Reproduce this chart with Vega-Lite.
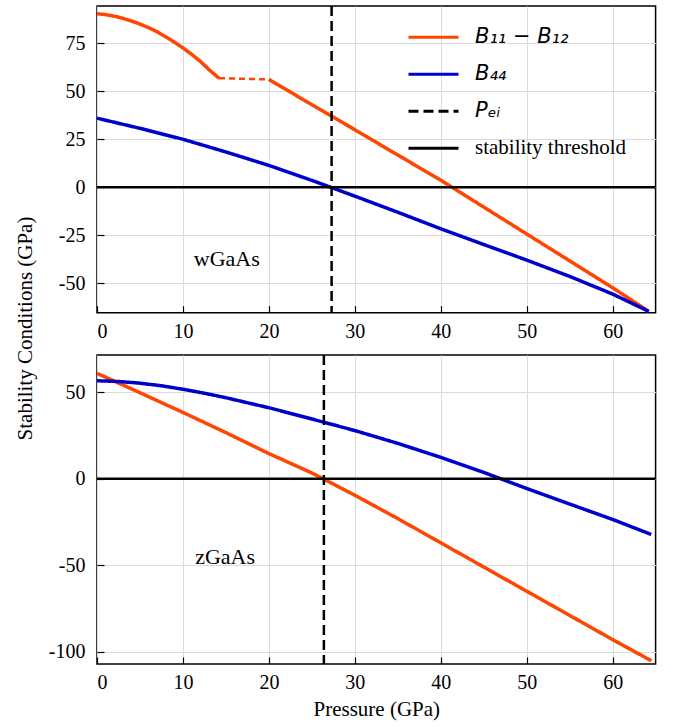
{
  "$schema": "https://vega.github.io/schema/vega-lite/v6.json",
  "padding": {"left": 14, "top": 4, "right": 5, "bottom": 5},
  "bounds": "flush",
  "spacing": 42,
  "config": {
    "font": "Liberation Serif",
    "view": {"stroke": "black", "strokeWidth": 1.5},
    "axis": {
      "grid": true, "gridColor": "#dcdcdc", "gridWidth": 1, "domain": false,
      "tickColor": "black", "tickSize": -7, "tickWidth": 1.2,
      "labelFont": "Liberation Serif", "labelFontSize": 20, "labelColor": "black",
      "labelExpr": "replace(datum.label, '−', '-')",
      "titleFont": "Liberation Serif", "titleFontSize": 21, "titleFontWeight": "normal", "titleColor": "black"
    },
    "axisX": {"labelPadding": 16, "titlePadding": 6},
    "axisY": {"labelPadding": 19}
  },
  "datasets": {
    "curves": [
      {"panel": "w", "series": "B11-B12", "seg": "a", "P": 0, "value": 90.4},
      {"panel": "w", "series": "B11-B12", "seg": "a", "P": 1, "value": 89.9},
      {"panel": "w", "series": "B11-B12", "seg": "a", "P": 2, "value": 89.1},
      {"panel": "w", "series": "B11-B12", "seg": "a", "P": 3, "value": 88.0},
      {"panel": "w", "series": "B11-B12", "seg": "a", "P": 4, "value": 86.6},
      {"panel": "w", "series": "B11-B12", "seg": "a", "P": 5, "value": 85.0},
      {"panel": "w", "series": "B11-B12", "seg": "a", "P": 6, "value": 83.1},
      {"panel": "w", "series": "B11-B12", "seg": "a", "P": 7, "value": 81.0},
      {"panel": "w", "series": "B11-B12", "seg": "a", "P": 8, "value": 78.4},
      {"panel": "w", "series": "B11-B12", "seg": "a", "P": 9, "value": 75.6},
      {"panel": "w", "series": "B11-B12", "seg": "a", "P": 10, "value": 72.6},
      {"panel": "w", "series": "B11-B12", "seg": "a", "P": 11, "value": 69.3},
      {"panel": "w", "series": "B11-B12", "seg": "a", "P": 12, "value": 65.7},
      {"panel": "w", "series": "B11-B12", "seg": "a", "P": 13, "value": 61.4},
      {"panel": "w", "series": "B11-B12", "seg": "a", "P": 14.2, "value": 56.8},
      {"panel": "w", "series": "B11-B12", "seg": "b", "P": 20, "value": 56.2},
      {"panel": "w", "series": "B11-B12", "seg": "b", "P": 25, "value": 43},
      {"panel": "w", "series": "B11-B12", "seg": "b", "P": 30, "value": 30},
      {"panel": "w", "series": "B11-B12", "seg": "b", "P": 35, "value": 16.8},
      {"panel": "w", "series": "B11-B12", "seg": "b", "P": 40, "value": 3.7},
      {"panel": "w", "series": "B11-B12", "seg": "b", "P": 45, "value": -10.3},
      {"panel": "w", "series": "B11-B12", "seg": "b", "P": 50, "value": -24.3},
      {"panel": "w", "series": "B11-B12", "seg": "b", "P": 55, "value": -38.3},
      {"panel": "w", "series": "B11-B12", "seg": "b", "P": 60, "value": -52.3},
      {"panel": "w", "series": "B11-B12", "seg": "b", "P": 64.2, "value": -64.6},
      {"panel": "w", "series": "gap", "seg": "g", "P": 14.2, "value": 56.8},
      {"panel": "w", "series": "gap", "seg": "g", "P": 20, "value": 56.2},
      {"panel": "w", "series": "B44", "seg": "c", "P": 0, "value": 36.0},
      {"panel": "w", "series": "B44", "seg": "c", "P": 5, "value": 30.7},
      {"panel": "w", "series": "B44", "seg": "c", "P": 10, "value": 25.0},
      {"panel": "w", "series": "B44", "seg": "c", "P": 15, "value": 18.4},
      {"panel": "w", "series": "B44", "seg": "c", "P": 20, "value": 11.4},
      {"panel": "w", "series": "B44", "seg": "c", "P": 25, "value": 3.6},
      {"panel": "w", "series": "B44", "seg": "c", "P": 30, "value": -4.6},
      {"panel": "w", "series": "B44", "seg": "c", "P": 35, "value": -13.0},
      {"panel": "w", "series": "B44", "seg": "c", "P": 40, "value": -21.6},
      {"panel": "w", "series": "B44", "seg": "c", "P": 45, "value": -29.8},
      {"panel": "w", "series": "B44", "seg": "c", "P": 50, "value": -37.9},
      {"panel": "w", "series": "B44", "seg": "c", "P": 55, "value": -46.4},
      {"panel": "w", "series": "B44", "seg": "c", "P": 60, "value": -55.6},
      {"panel": "w", "series": "B44", "seg": "c", "P": 64.2, "value": -64.6},
      {"panel": "z", "series": "B11-B12", "seg": "a", "P": 0, "value": 61},
      {"panel": "z", "series": "B11-B12", "seg": "a", "P": 5, "value": 49.8},
      {"panel": "z", "series": "B11-B12", "seg": "a", "P": 10, "value": 38.4},
      {"panel": "z", "series": "B11-B12", "seg": "a", "P": 15, "value": 26.7},
      {"panel": "z", "series": "B11-B12", "seg": "a", "P": 20, "value": 14.6},
      {"panel": "z", "series": "B11-B12", "seg": "a", "P": 25, "value": 3.4},
      {"panel": "z", "series": "B11-B12", "seg": "a", "P": 30, "value": -9.5},
      {"panel": "z", "series": "B11-B12", "seg": "a", "P": 35, "value": -23},
      {"panel": "z", "series": "B11-B12", "seg": "a", "P": 40, "value": -37},
      {"panel": "z", "series": "B11-B12", "seg": "a", "P": 45, "value": -51},
      {"panel": "z", "series": "B11-B12", "seg": "a", "P": 50, "value": -65},
      {"panel": "z", "series": "B11-B12", "seg": "a", "P": 55, "value": -79},
      {"panel": "z", "series": "B11-B12", "seg": "a", "P": 60, "value": -93},
      {"panel": "z", "series": "B11-B12", "seg": "a", "P": 64.5, "value": -105.2},
      {"panel": "z", "series": "B44", "seg": "c", "P": 0, "value": 56.7},
      {"panel": "z", "series": "B44", "seg": "c", "P": 2.5, "value": 56.3},
      {"panel": "z", "series": "B44", "seg": "c", "P": 5, "value": 55.3},
      {"panel": "z", "series": "B44", "seg": "c", "P": 7.5, "value": 53.8},
      {"panel": "z", "series": "B44", "seg": "c", "P": 10, "value": 51.8},
      {"panel": "z", "series": "B44", "seg": "c", "P": 12.5, "value": 49.5},
      {"panel": "z", "series": "B44", "seg": "c", "P": 15, "value": 46.9},
      {"panel": "z", "series": "B44", "seg": "c", "P": 20, "value": 41.1},
      {"panel": "z", "series": "B44", "seg": "c", "P": 25, "value": 34.6},
      {"panel": "z", "series": "B44", "seg": "c", "P": 30, "value": 27.9},
      {"panel": "z", "series": "B44", "seg": "c", "P": 35, "value": 20.5},
      {"panel": "z", "series": "B44", "seg": "c", "P": 40, "value": 12.4},
      {"panel": "z", "series": "B44", "seg": "c", "P": 45, "value": 3.7},
      {"panel": "z", "series": "B44", "seg": "c", "P": 50, "value": -5.6},
      {"panel": "z", "series": "B44", "seg": "c", "P": 55, "value": -14.6},
      {"panel": "z", "series": "B44", "seg": "c", "P": 60, "value": -23.5},
      {"panel": "z", "series": "B44", "seg": "c", "P": 64.5, "value": -32.2}
    ],
    "refs": [
      {"panel": "w", "series": "PEI", "P": 27.3},
      {"panel": "z", "series": "PEI", "P": 26.4}
    ],
    "thresholds": [
      {"panel": "w", "series": "thr", "value": 0},
      {"panel": "z", "series": "thr", "value": 0}
    ],
    "labels": [
      {"panel": "w", "P": 15.1, "value": -37.2, "text": "wGaAs"},
      {"panel": "z", "P": 14.9, "value": -45.3, "text": "zGaAs"}
    ]
  },
  "resolve": {
    "scale": {"color": "independent", "strokeDash": "independent"},
    "legend": {"color": "independent", "strokeDash": "independent"}
  },
  "vconcat": [
    {
      "width": 558.6,
      "height": 306.7,
      "encoding": {
        "x": {"field": "P", "type": "quantitative", "scale": {"domain": [0, 65], "nice": false, "zero": false},
              "axis": {"values": [0, 10, 20, 30, 40, 50, 60], "title": null, "labelFont": "Liberation Serif"}},
        "y": {"field": "value", "type": "quantitative", "scale": {"domain": [-65.3, 94.4], "nice": false, "zero": false},
              "axis": {"values": [-50, -25, 0, 25, 50, 75], "labelFont": "Liberation Serif", "title": "Stability Conditions (GPa)", "titleX": -61, "titleY": 322}}
      },
      "layer": [
        {
          "data": {"name": "curves"},
          "transform": [{"filter": "datum.panel === 'w' && datum.series !== 'gap'"}],
          "mark": {"type": "line", "strokeWidth": 3.5, "clip": true},
          "encoding": {
            "color": {"field": "series", "type": "nominal",
              "scale": {"domain": ["B11-B12", "B44", "PEI", "thr"], "range": ["#ff4500", "#0000cd", "#000000", "#000000"]},
              "legend": {"title": null, "orient": "none", "legendX": 310, "legendY": 4.7, "padding": 0,
                "symbolType": "stroke", "symbolSize": 2500, "symbolStrokeWidth": 3,
                "labelFont": "DejaVu Sans", "labelFontSize": 21, "labelColor": "black", "labelOffset": 15, "rowPadding": -1.5,
                "labelExpr": "datum.value === 'B11-B12' ? 'B₁₁ − B₁₂' : datum.value === 'B44' ? 'B₄₄' : datum.value === 'PEI' ? 'Pₑᵢ' : 'stability threshold'",
                "encode": {"labels": {"update": {
                  "font": {"signal": "datum.value === 'thr' ? 'Liberation Serif' : 'DejaVu Sans'"},
                  "fontStyle": {"signal": "datum.value === 'thr' ? 'normal' : 'italic'"}
                }}}}},
            "strokeDash": {"field": "series", "type": "nominal",
              "scale": {"domain": ["B11-B12", "B44", "PEI", "thr"], "range": [[1, 0], [1, 0], [10, 5], [1, 0]]},
              "legend": {"title": null, "orient": "none", "legendX": 310, "legendY": 4.7, "padding": 0,
                "symbolType": "stroke", "symbolSize": 2500, "symbolStrokeWidth": 3,
                "labelFont": "DejaVu Sans", "labelFontSize": 21, "labelColor": "black", "labelOffset": 15, "rowPadding": -1.5,
                "labelExpr": "datum.value === 'B11-B12' ? 'B₁₁ − B₁₂' : datum.value === 'B44' ? 'B₄₄' : datum.value === 'PEI' ? 'Pₑᵢ' : 'stability threshold'"}},
            "detail": {"field": "seg"}
          }
        },
        {
          "data": {"name": "curves"},
          "transform": [{"filter": "datum.panel === 'w' && datum.series === 'gap'"}],
          "mark": {"type": "line", "strokeWidth": 2.5, "color": "#ff4500", "strokeDash": [6, 4], "clip": true},
          "encoding": {}
        },
        {
          "data": {"name": "refs"},
          "transform": [{"filter": "datum.panel === 'w'"}],
          "mark": {"type": "rule", "strokeWidth": 2.5},
          "encoding": {
            "x": {"field": "P", "type": "quantitative"},
            "y": null,
            "color": {"field": "series", "type": "nominal"},
            "strokeDash": {"field": "series", "type": "nominal"}
          }
        },
        {
          "data": {"name": "thresholds"},
          "transform": [{"filter": "datum.panel === 'w'"}],
          "mark": {"type": "rule", "strokeWidth": 2.5},
          "encoding": {
            "x": null,
            "y": {"field": "value", "type": "quantitative"},
            "color": {"field": "series", "type": "nominal"},
            "strokeDash": {"field": "series", "type": "nominal"}
          }
        },
        {
          "data": {"name": "labels"},
          "transform": [{"filter": "datum.panel === 'w'"}],
          "mark": {"type": "text", "font": "Liberation Serif", "fontSize": 22, "color": "black", "align": "center", "baseline": "middle"},
          "encoding": {"text": {"field": "text"}}
        }
      ]
    },
    {
      "width": 558.6,
      "height": 309,
      "encoding": {
        "x": {"field": "P", "type": "quantitative", "scale": {"domain": [0, 65], "nice": false, "zero": false},
              "axis": {"values": [0, 10, 20, 30, 40, 50, 60], "labelFont": "Liberation Serif", "title": "Pressure (GPa)"}},
        "y": {"field": "value", "type": "quantitative", "scale": {"domain": [-107.1, 71.6], "nice": false, "zero": false},
              "axis": {"values": [-100, -50, 0, 50], "labelFont": "Liberation Serif", "title": null}}
      },
      "layer": [
        {
          "data": {"name": "curves"},
          "transform": [{"filter": "datum.panel === 'z'"}],
          "mark": {"type": "line", "strokeWidth": 3.5, "clip": true},
          "encoding": {
            "color": {"field": "series", "type": "nominal",
              "scale": {"domain": ["B11-B12", "B44", "PEI", "thr"], "range": ["#ff4500", "#0000cd", "#000000", "#000000"]},
              "legend": null},
            "strokeDash": {"field": "series", "type": "nominal",
              "scale": {"domain": ["B11-B12", "B44", "PEI", "thr"], "range": [[1, 0], [1, 0], [10, 5], [1, 0]]},
              "legend": null},
            "detail": {"field": "seg"}
          }
        },
        {
          "data": {"name": "refs"},
          "transform": [{"filter": "datum.panel === 'z'"}],
          "mark": {"type": "rule", "strokeWidth": 2.5},
          "encoding": {
            "x": {"field": "P", "type": "quantitative"},
            "y": null,
            "color": {"field": "series", "type": "nominal", "legend": null},
            "strokeDash": {"field": "series", "type": "nominal", "legend": null}
          }
        },
        {
          "data": {"name": "thresholds"},
          "transform": [{"filter": "datum.panel === 'z'"}],
          "mark": {"type": "rule", "strokeWidth": 2.5},
          "encoding": {
            "x": null,
            "y": {"field": "value", "type": "quantitative"},
            "color": {"field": "series", "type": "nominal", "legend": null},
            "strokeDash": {"field": "series", "type": "nominal", "legend": null}
          }
        },
        {
          "data": {"name": "labels"},
          "transform": [{"filter": "datum.panel === 'z'"}],
          "mark": {"type": "text", "font": "Liberation Serif", "fontSize": 22, "color": "black", "align": "center", "baseline": "middle"},
          "encoding": {"text": {"field": "text"}}
        }
      ]
    }
  ]
}
